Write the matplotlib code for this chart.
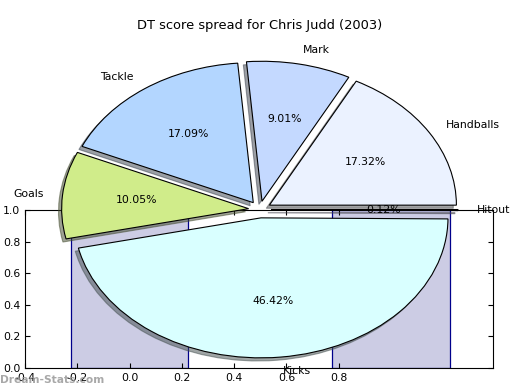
import matplotlib
matplotlib.use("Agg")
import matplotlib.pyplot as plt

# ---- data ----
title = "DT score spread for Chris Judd (2003)"
pie_labels = ["Handballs", "Mark", "Tackle", "Goals", "Kicks", "Hitout"]
pie_values = [17.32, 9.01, 17.09, 10.05, 46.42, 0.12]
pie_colors = ["#EBF2FF", "#C4D9FF", "#B3D6FF", "#D0EC8A", "#D9FFFF", "#E0E0FF"]

bar_x = [0.0, 1.0]
bar_heights = [1.0, 1.0]
xtick_vals = [-0.4, -0.2, 0.0, 0.2, 0.4, 0.6, 0.8]
ytick_vals = [0.0, 0.2, 0.4, 0.6, 0.8, 1.0]

W, H = 520, 390
fig = plt.figure(figsize=(W / 100, H / 100), dpi=100)

# background bar axes
axb = fig.add_axes([25 / W, (H - 368) / H, 468 / W, 158 / H])
axb.bar(bar_x, bar_heights, width=0.45, color="#CCCCE4", edgecolor="#00008B", linewidth=0.9)
axb.set_xlim(-0.4, 1.39)
axb.set_ylim(0, 1.0)
axb.set_xticks(xtick_vals)
axb.set_xticklabels([f"{v:.1f}" for v in xtick_vals])
axb.set_yticks(ytick_vals)
axb.set_yticklabels([f"{v:.1f}" for v in ytick_vals])
axb.tick_params(direction="in", top=True, right=True, labelsize=7.8, length=3.5, pad=3.5)

# pie axes on top (whole figure, no frame)
axp = fig.add_axes([0, 0, 1, 1])
axp.patch.set_visible(False)
wedges, texts, autotexts = axp.pie(
    pie_values,
    labels=pie_labels,
    colors=pie_colors,
    explode=[0.06] * len(pie_values),
    autopct="%1.2f%%",
    shadow={"ox": -0.012, "oy": -0.016},
    startangle=0,
    wedgeprops={"edgecolor": "black", "linewidth": 0.8},
    textprops={"fontsize": 7.8},
)
axp.set_aspect("auto")
cx, cy = 259.8, H - 209.5
rx, ry = 187.0, 140.0
axp.set_xlim(-cx / rx, (W - cx) / rx)
axp.set_ylim(-cy / ry, (H - cy) / ry)
axp.set_axis_off()

fig.text(0.5, 1 - 25 / H, title, ha="center", va="center", fontsize=9.4)
fig.text(0.0, 1 - 380 / H, "Dream-Stats.com", ha="left", va="center",
         fontsize=7.7, fontweight="bold", color="#999999", alpha=0.85)

fig.savefig("out.png", dpi=100)
